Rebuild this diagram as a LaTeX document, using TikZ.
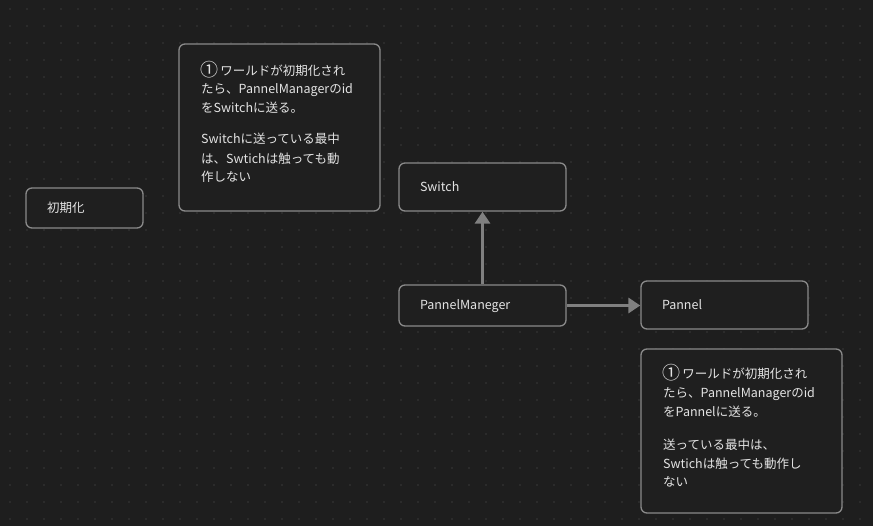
\documentclass[tikz,border=0pt]{standalone}
\usepackage{fontspec}
\setmainfont{Noto Sans CJK JP}
\usetikzlibrary{arrows.meta}
\definecolor{bg}{HTML}{1E1E1E}
\definecolor{boxfill}{HTML}{1F1F1F}
\definecolor{dotc}{HTML}{3A3A3A}
\definecolor{edge}{HTML}{8A8A8A}
\definecolor{txt}{HTML}{E4E4E4}
\definecolor{arr}{HTML}{808080}
\newcommand{\bigone}{\raisebox{-1.5pt}{\fontsize{18}{18}\selectfont ①}}
\tikzset{
  card/.style={draw=edge, line width=1.3pt, fill=boxfill, rounded corners=6pt,
    text=txt, font=\fontsize{12.5}{15}\selectfont, inner xsep=21pt, align=left},
  noteline/.style={anchor=base west, inner sep=0pt, text=txt, font=\fontsize{12.5}{15}\selectfont},
  link/.style={draw=arr, line width=3pt, -{Triangle[length=12pt,width=15pt]}}
}
\begin{document}
\begin{tikzpicture}[x=1pt,y=-1pt]
\fill[bg] (0,0) rectangle (873,526);
\useasboundingbox (0,0) rectangle (873,526);
\foreach \i in {0,...,51}{\foreach \j in {0,...,30}{
  \fill[dotc] (10+17*\i, 9+17*\j) circle (0.9pt);}}
% boxes
\node[card, minimum width=117pt, minimum height=40pt, text width=75pt] (init) at (84.5,208) {初期化};
\node[card, minimum width=201pt, minimum height=167pt] (note1) at (279.5,127.5) {};
\node[card, minimum width=167pt, minimum height=48pt, text width=125pt] (sw) at (482.5,187) {Switch};
\node[card, minimum width=167pt, minimum height=41pt, text width=125pt] (pm) at (482.5,305.5) {\raisebox{-4.5pt}[0pt][0pt]{PannelManeger}};
\node[card, minimum width=167pt, minimum height=48pt, text width=125pt] (pan) at (724.5,305) {Pannel};
\node[card, minimum width=201pt, minimum height=164pt] (note2) at (741.5,431) {};
% note 1 text
\node[noteline] (a1) at (200,75.3) {\bigone\,ワールドが初期化され};
\node[noteline] (a2) at (201,94) {たら、PannelManagerのid};
\node[noteline] (a3) at (201,113) {をSwitchに送る。};
\node[noteline] (a4) at (201,143.6) {Switchに送っている最中};
\node[noteline] (a5) at (201,163.6) {は、Swtichは触っても動};
\node[noteline] (a6) at (201,182) {作しない};
% note 2 text
\node[noteline] (b1) at (662,378.3) {\bigone\,ワールドが初期化され};
\node[noteline] (b2) at (663,398) {たら、PannelManagerのid};
\node[noteline] (b3) at (663,416.6) {をPannelに送る。};
\node[noteline] (b4) at (663,449.6) {送っている最中は、};
\node[noteline] (b5) at (663,468.6) {Swtichは触っても動作し};
\node[noteline] (b6) at (663,486.3) {ない};
% connectors
\draw[link] (pm.north) -- (sw.south);
\draw[link] (pm.east) -- (pm.east -| pan.west);
\end{tikzpicture}
\end{document}
